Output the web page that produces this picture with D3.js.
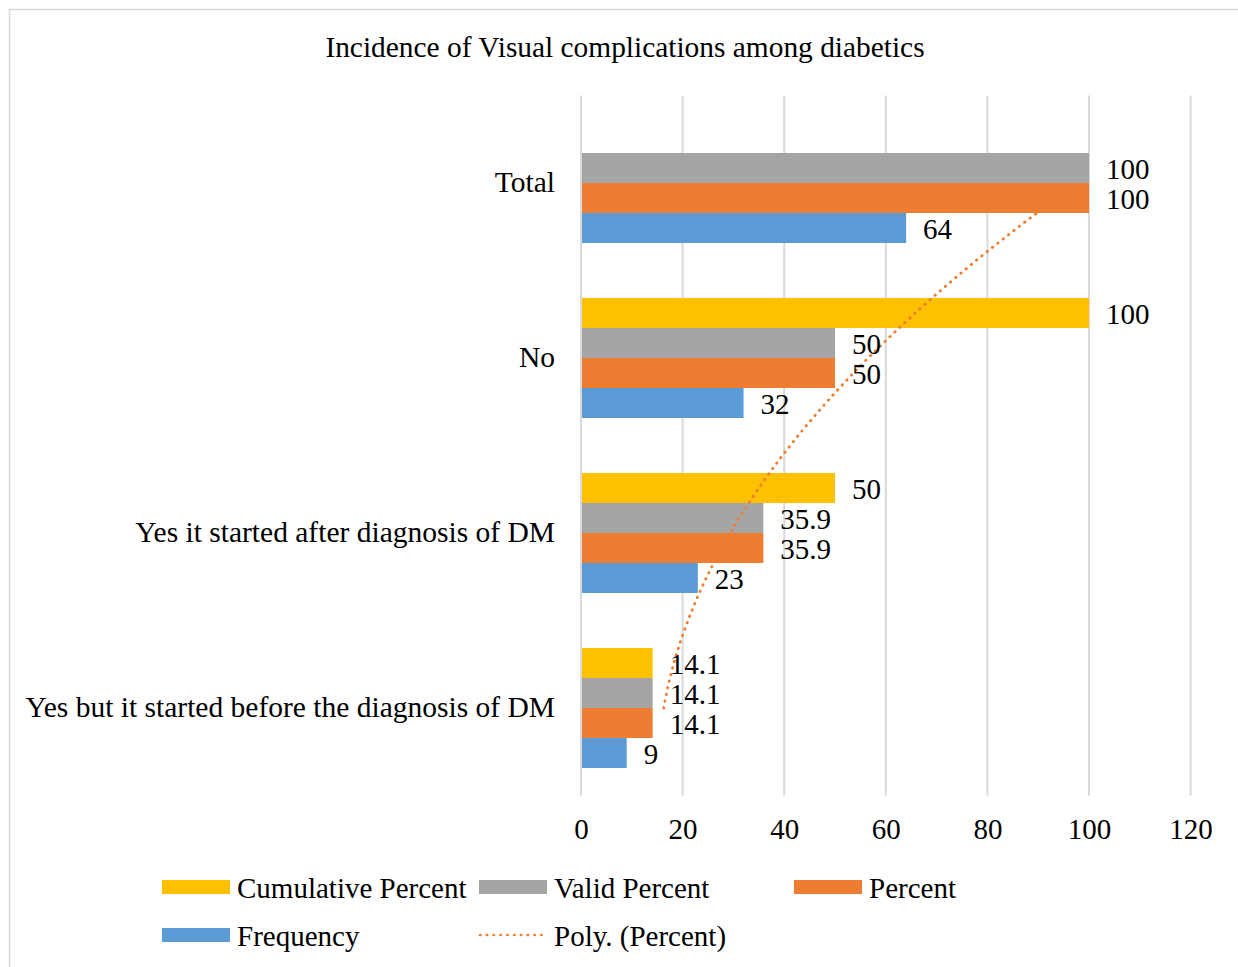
<!DOCTYPE html>
<html>
<head>
<meta charset="utf-8">
<script src="https://cdn.jsdelivr.net/npm/d3@7"></script>
<style>
  html, body { margin: 0; padding: 0; background: #fff; }
  svg { display: block; font-family: "Liberation Serif", "Times New Roman", serif; }
</style>
</head>
<body>
<svg id="chart" width="1238" height="967"></svg>
<script>
// Categories, bottom-to-top order as in the source table
const categories = [
  "Yes but it started before the diagnosis of DM",
  "Yes it started after diagnosis of DM",
  "No",
  "Total"
];
const frequency = [9, 23, 32, 64];
const percent = [14.1, 35.9, 50, 100];
const validPercent = [14.1, 35.9, 50, 100];
const cumulativePercent = [14.1, 50, 100, null];
const xTicks = [0, 20, 40, 60, 80, 100, 120];

const seriesNames = ["Cumulative Percent", "Valid Percent", "Percent", "Frequency"];
const seriesValues = [cumulativePercent, validPercent, percent, frequency];
const seriesColors = ["#FFC000", "#A5A5A5", "#ED7D31", "#5B9BD5"];

const FS = 29;

const svg = d3.select("#chart");
const W = 1238, H = 967;

// outer chart border
svg.append("rect")
  .attr("x", 9.5).attr("y", 9.5)
  .attr("width", W + 10).attr("height", H + 10)
  .attr("fill", "#fff").attr("stroke", "#d9d9d9").attr("stroke-width", 1.5);

const plot = { left: 581, right: 1190.6, top: 95.5, bottom: 795.5 };

const x = d3.scaleLinear().domain([0, 120]).range([plot.left, plot.right]);
// top band is the last category
const y = d3.scaleBand()
  .domain(categories.slice().reverse())
  .range([plot.top, plot.bottom])
  .paddingInner(55 / 175).paddingOuter(27.5 / 175);
const ySub = d3.scaleBand().domain(seriesNames).range([0, y.bandwidth()]);

// title
svg.append("text")
  .attr("x", 625).attr("y", 47)
  .attr("text-anchor", "middle").attr("dominant-baseline", "central")
  .attr("font-size", 29.4).attr("fill", "#000")
  .text("Incidence of Visual complications among diabetics");

// gridlines
svg.append("g").selectAll("line").data(xTicks).join("line")
  .attr("x1", d => x(d)).attr("x2", d => x(d))
  .attr("y1", plot.top).attr("y2", plot.bottom)
  .attr("stroke", "#d9d9d9").attr("stroke-width", 2);

// x tick labels via axis
const xAxis = svg.append("g")
  .attr("transform", `translate(0,${plot.bottom})`)
  .call(d3.axisBottom(x).tickValues(xTicks).tickSize(0).tickPadding(23));
xAxis.select(".domain").remove();
xAxis.selectAll("text")
  .attr("font-family", "Liberation Serif, serif")
  .attr("font-size", FS).attr("fill", "#000");

// category labels via axis
const yAxis = svg.append("g")
  .attr("transform", `translate(${plot.left},0)`)
  .call(d3.axisLeft(y).tickSize(0).tickPadding(26));
yAxis.select(".domain").remove();
yAxis.selectAll("text")
  .attr("font-family", "Liberation Serif, serif")
  .attr("font-size", 29.5).attr("fill", "#000");

// bars
const rows = [];
categories.forEach((c, i) => {
  seriesNames.forEach((s, k) => {
    const v = seriesValues[k][i];
    if (v !== null && v !== undefined) rows.push({ cat: c, series: s, value: v, color: seriesColors[k] });
  });
});

const barG = svg.append("g");
barG.selectAll("rect").data(rows).join("rect")
  .attr("x", x(0) + 1)
  .attr("y", d => y(d.cat) + ySub(d.series))
  .attr("width", d => x(d.value) - x(0) - 1)
  .attr("height", ySub.bandwidth())
  .attr("fill", d => d.color);

// second-order polynomial trendline on Percent (least squares, x = 1..n)
function polyFit2(ys) {
  let s = [0, 0, 0, 0, 0], t = [0, 0, 0];
  ys.forEach((yv, i) => {
    const xv = i + 1;
    for (let p = 0; p <= 4; p++) s[p] += Math.pow(xv, p);
    for (let p = 0; p <= 2; p++) t[p] += Math.pow(xv, p) * yv;
  });
  const M = [[s[0], s[1], s[2], t[0]], [s[1], s[2], s[3], t[1]], [s[2], s[3], s[4], t[2]]];
  for (let i = 0; i < 3; i++) {
    for (let j = i + 1; j < 3; j++) {
      const f = M[j][i] / M[i][i];
      for (let k = i; k < 4; k++) M[j][k] -= f * M[i][k];
    }
  }
  const c = [0, 0, 0];
  for (let i = 2; i >= 0; i--) {
    let sum = M[i][3];
    for (let k = i + 1; k < 3; k++) sum -= M[i][k] * c[k];
    c[i] = sum / M[i][i];
  }
  return xv => c[0] + c[1] * xv + c[2] * xv * xv;
}
const trend = polyFit2(percent);
const centerY = i => y(categories[i]) + y.bandwidth() / 2;
const trendPts = d3.range(0, categories.length - 1 + 0.001, 0.02).map(u => {
  const i0 = Math.min(Math.floor(u), categories.length - 2), frac = u - i0;
  const yy = centerY(i0) + frac * (centerY(i0 + 1) - centerY(i0));
  return [x(trend(u + 1)), yy];
});
svg.append("path")
  .attr("d", d3.line()(trendPts))
  .attr("fill", "none").attr("stroke", "#ED7D31")
  .attr("stroke-width", 2.8).attr("stroke-linecap", "round")
  .attr("stroke-dasharray", "0.5 6.3");

// value labels
svg.append("g").selectAll("text").data(rows).join("text")
  .attr("x", d => x(d.value) + 17)
  .attr("y", d => y(d.cat) + ySub(d.series) + ySub.bandwidth() / 2 + 1)
  .attr("dominant-baseline", "central")
  .attr("font-size", FS).attr("fill", "#000")
  .text(d => d.value);

// legend
const legendItems = [
  { name: "Cumulative Percent", color: seriesColors[0], x: 162, y: 887, type: "bar" },
  { name: "Valid Percent", color: seriesColors[1], x: 479, y: 887, type: "bar" },
  { name: "Percent", color: seriesColors[2], x: 794, y: 887, type: "bar" },
  { name: "Frequency", color: seriesColors[3], x: 162, y: 935, type: "bar" },
  { name: "Poly. (Percent)", color: "#ED7D31", x: 479, y: 935, type: "line" }
];
const lg = svg.append("g").selectAll("g").data(legendItems).join("g")
  .attr("transform", d => `translate(${d.x},${d.y})`);
lg.filter(d => d.type === "bar").append("rect")
  .attr("x", 0).attr("y", -7).attr("width", 68).attr("height", 14)
  .attr("fill", d => d.color);
lg.filter(d => d.type === "line").append("line")
  .attr("x1", 1).attr("x2", 67).attr("y1", 0).attr("y2", 0)
  .attr("stroke", d => d.color).attr("stroke-width", 2.5)
  .attr("stroke-linecap", "round").attr("stroke-dasharray", "0.5 6.3");
lg.append("text")
  .attr("x", 75).attr("y", 1)
  .attr("dominant-baseline", "central")
  .attr("font-size", FS).attr("fill", "#000")
  .text(d => d.name);
</script>
</body>
</html>
